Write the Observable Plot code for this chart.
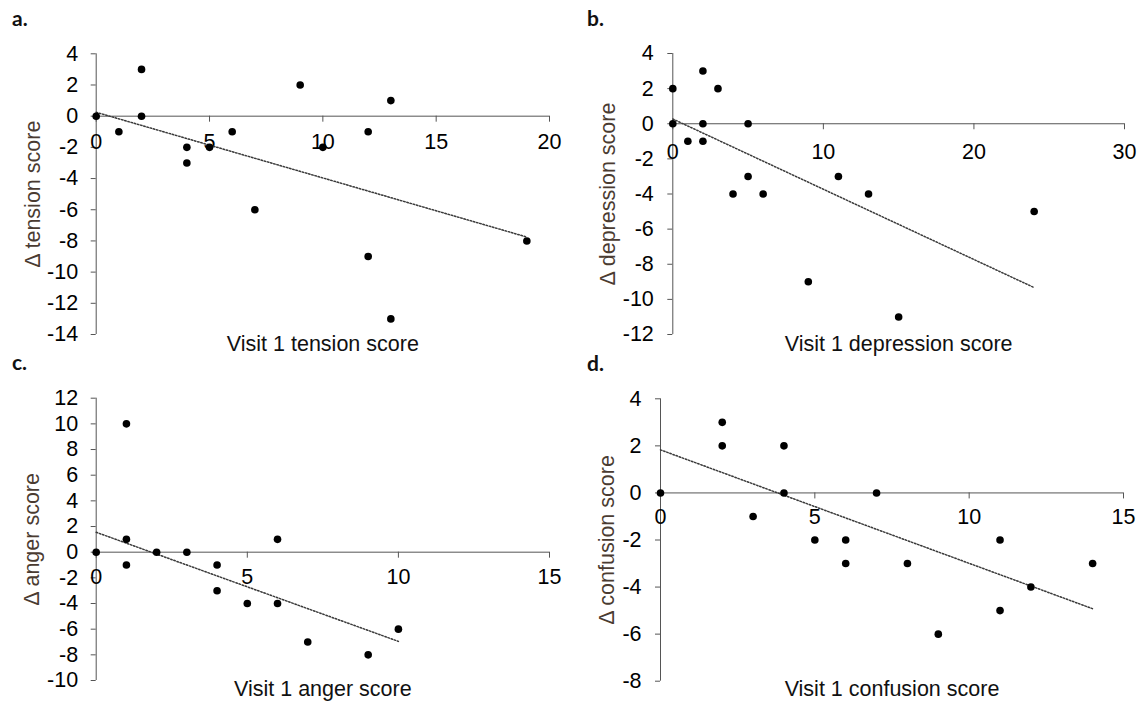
<!DOCTYPE html>
<html>
<head>
<meta charset="utf-8">
<script src="https://cdn.jsdelivr.net/npm/d3@7"></script>
<script src="https://cdn.jsdelivr.net/npm/@observablehq/plot@0.6"></script>
<style>
  html, body { margin: 0; padding: 0; background: #fff; }
  #root { position: relative; width: 1143px; height: 709px; overflow: hidden; }
  .panel { position: absolute; }
  .tag { position: absolute; font-family: Lato, "Open Sans", sans-serif; font-weight: 700; font-size: 21px; line-height: 1; color: #111; }
</style>
</head>
<body>
<div id="root"></div>
<script>
// ---------- data ----------
// a. tension
const tensionX = [0, 1, 2, 2, 4, 4, 5, 6, 7, 9, 10, 12, 12, 13, 13, 19];
const tensionD = [0, -1, 3, 0, -2, -3, -2, -1, -6, 2, -2, -1, -9, 1, -13, -8];
const tensionTrendX = [0, 19];
const tensionTrendY = [0.25, -7.75];
const tensionXTicks = [0, 5, 10, 15, 20];
const tensionYTicks = [4, 2, 0, -2, -4, -6, -8, -10, -12, -14];

// b. depression
const depressionX = [0, 0, 1, 2, 2, 2, 3, 4, 5, 5, 6, 9, 11, 13, 15, 24];
const depressionD = [2, 0, -1, 3, 0, -1, 2, -4, 0, -3, -4, -9, -3, -4, -11, -5];
const depressionTrendX = [0, 24];
const depressionTrendY = [0.27, -9.33];
const depressionXTicks = [0, 10, 20, 30];
const depressionYTicks = [4, 2, 0, -2, -4, -6, -8, -10, -12];

// c. anger
const angerX = [0, 1, 1, 1, 2, 3, 4, 4, 5, 6, 6, 7, 9, 10];
const angerD = [0, 10, 1, -1, 0, 0, -1, -3, -4, 1, -4, -7, -8, -6];
const angerTrendX = [0, 10];
const angerTrendY = [1.55, -6.95];
const angerXTicks = [0, 5, 10, 15];
const angerYTicks = [12, 10, 8, 6, 4, 2, 0, -2, -4, -6, -8, -10];

// d. confusion
const confusionX = [0, 2, 2, 3, 4, 4, 5, 6, 6, 7, 8, 9, 11, 11, 12, 14];
const confusionD = [0, 3, 2, -1, 2, 0, -2, -2, -3, 0, -3, -6, -2, -5, -4, -3];
const confusionTrendX = [0, 14];
const confusionTrendY = [1.83, -4.92];
const confusionXTicks = [0, 5, 10, 15];
const confusionYTicks = [4, 2, 0, -2, -4, -6, -8];

const panelTags = ["a.", "b.", "c.", "d."];
const xTitles = ["Visit 1 tension score", "Visit 1 depression score", "Visit 1 anger score", "Visit 1 confusion score"];
const yTitles = ["\u0394 tension score", "\u0394 depression score", "\u0394 anger score", "\u0394 confusion score"];

// ---------- layout ----------
const panels = [
  {xs: tensionX, ys: tensionD, tx: tensionTrendX, ty: tensionTrendY, xt: tensionXTicks, yt: tensionYTicks,
   box: {left: 0, top: 0, width: 570, height: 362}, frame: {x0: 95.7, x1: 549, y0: 53.3, y1: 334},
   tickPad: 13, xLabDy: 26, xTitleDy: 16, yTitleDx: -63, tag: {left: 12, top: 7}},
  {xs: depressionX, ys: depressionD, tx: depressionTrendX, ty: depressionTrendY, xt: depressionXTicks, yt: depressionYTicks,
   box: {left: 570, top: 0, width: 573, height: 362}, frame: {x0: 672.3, x1: 1124, y0: 53, y1: 334},
   tickPad: 14, xLabDy: 28, xTitleDy: 16, yTitleDx: -65, tag: {left: 587, top: 7}},
  {xs: angerX, ys: angerD, tx: angerTrendX, ty: angerTrendY, xt: angerXTicks, yt: angerYTicks,
   box: {left: 0, top: 362, width: 570, height: 347}, frame: {x0: 95.7, x1: 549, y0: 397.7, y1: 680},
   tickPad: 13, xLabDy: 25, xTitleDy: 15.5, yTitleDx: -64, tag: {left: 12, top: 351}},
  {xs: confusionX, ys: confusionD, tx: confusionTrendX, ty: confusionTrendY, xt: confusionXTicks, yt: confusionYTicks,
   box: {left: 570, top: 362, width: 573, height: 347}, frame: {x0: 660, x1: 1123, y0: 398.3, y1: 680.7},
   tickPad: 14, xLabDy: 24, xTitleDy: 15, yTitleDx: -53, tag: {left: 587, top: 352}}
];

const root = document.getElementById("root");
const FONT = "'Liberation Sans', Arial, sans-serif";
const AXIS = "#555";
const FS = 21.5;

panels.forEach((p, i) => {
  const pts = p.xs.map((x, j) => ({x, y: p.ys[j]}));
  const trend = p.tx.map((x, j) => ({x, y: p.ty[j]}));
  const b = p.box, f = p.frame;
  const xDom = [p.xt[0], p.xt[p.xt.length - 1]];
  const yDom = [p.yt[p.yt.length - 1], p.yt[0]];
  const chart = Plot.plot({
    width: b.width,
    height: b.height,
    marginLeft: f.x0 - b.left,
    marginRight: b.left + b.width - f.x1,
    marginTop: f.y0 - b.top,
    marginBottom: b.top + b.height - f.y1,
    style: {fontFamily: FONT, fontSize: FS + "px", color: "#000", background: "transparent", overflow: "visible"},
    x: {domain: xDom, axis: null},
    y: {domain: yDom},
    marks: [
      Plot.axisY({ticks: p.yt, tickSize: 5, tickPadding: p.tickPad, tickFormat: d => String(d), stroke: AXIS, fill: "#000", fontSize: FS, label: null}),
      Plot.ruleX([0], {stroke: AXIS, strokeWidth: 1}),
      Plot.ruleY([0], {stroke: AXIS, strokeWidth: 1}),
      Plot.ruleX(p.xt, {x: d => d, y1: 0, y2: 0, insetBottom: -6, stroke: AXIS, strokeWidth: 1}),
      Plot.text(p.xt, {x: d => d, y: 0, dy: p.xLabDy, text: d => String(d), fill: "#000", fontSize: FS}),
      Plot.text([xTitles[i]], {frameAnchor: "bottom", dy: p.xTitleDy, text: d => d, fill: "#111", fontSize: FS, textAnchor: "middle"}),
      Plot.text([yTitles[i]], {frameAnchor: "left", dx: p.yTitleDx, rotate: -90, text: d => d, fill: "#4a3b31", fontSize: FS, textAnchor: "middle", lineAnchor: "middle"}),
      Plot.line(trend, {x: "x", y: "y", stroke: "#3a3a3a", strokeWidth: 1.5, strokeDasharray: "1.5,1.8"}),
      Plot.dot(pts, {x: "x", y: "y", r: 3.8, fill: "#000", stroke: "none"})
    ]
  });
  const wrap = document.createElement("div");
  wrap.className = "panel";
  wrap.style.left = b.left + "px";
  wrap.style.top = b.top + "px";
  wrap.appendChild(chart);
  root.appendChild(wrap);

  const tag = document.createElement("div");
  tag.className = "tag";
  tag.style.left = p.tag.left + "px";
  tag.style.top = p.tag.top + "px";
  tag.textContent = panelTags[i];
  root.appendChild(tag);
});
</script>
</body>
</html>
